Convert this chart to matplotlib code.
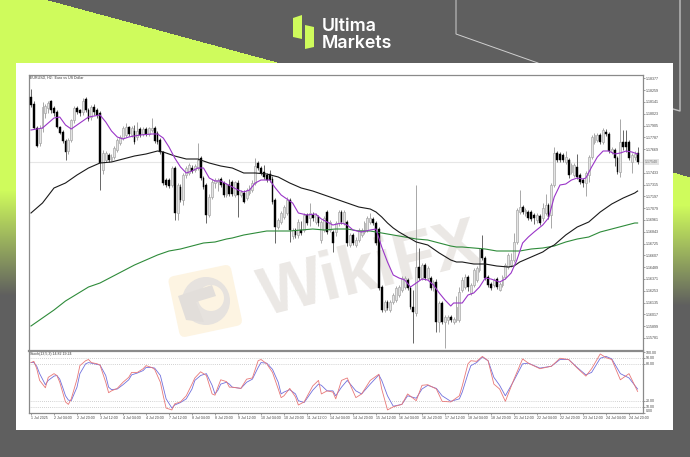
import numpy as np
import matplotlib
matplotlib.use('Agg')
import matplotlib.pyplot as plt
from matplotlib.colors import to_rgb
from matplotlib.patches import Polygon, FancyBboxPatch, Circle, Rectangle
from matplotlib.transforms import Affine2D

# candles, in pips above 1.15000
opens = [319,312,288,273,288,303,308,315,308,304,289,284,275,265,276,296,308,306,304,317,306,299,309,306,303,246,256,261,256,259,
         266,273,278,281,289,281,285,279,287,282,287,282,286,288,283,276,264,236,236,231,248,203,229,216,241,243,248,246,248,258,
         238,231,201,219,233,234,237,233,221,231,234,221,233,221,223,218,223,226,233,253,248,244,241,242,237,216,189,194,199,203,
         216,180,186,181,186,186,201,198,201,194,199,176,186,204,186,184,184,193,204,193,194,171,181,171,176,181,184,186,194,197,
         193,187,129,106,114,106,114,116,121,126,129,136,128,109,103,149,138,151,138,138,129,134,94,113,94,96,99,94,96,96,
         126,129,139,123,131,136,146,167,158,139,132,131,137,126,131,139,149,151,156,174,204,209,203,204,204,201,196,200,198,203,
         211,201,231,263,262,261,254,256,244,241,249,241,236,233,241,259,274,276,281,274,284,282,264,266,258,244,274,274,274,254,
         259,263]
highs = [327,315,290,291,314,312,315,316,310,306,290,286,277,278,297,310,310,307,318,319,308,311,312,308,305,266,265,263,262,270,
         278,281,290,293,290,290,291,294,289,289,289,289,298,290,285,278,265,238,238,250,250,233,232,243,250,253,251,252,273,260,
         240,233,222,237,238,238,239,235,233,237,236,235,236,226,226,228,231,236,258,255,250,251,243,246,240,218,198,205,211,219,
         218,188,188,197,195,203,203,213,204,203,201,196,200,206,196,186,195,206,206,206,196,183,183,179,188,188,195,200,203,199,
         195,189,131,116,116,116,123,130,131,140,140,138,130,126,231,168,153,153,150,140,136,137,115,115,101,101,101,99,120,129,
         139,142,141,133,148,150,168,181,160,141,134,138,139,134,141,153,163,163,183,208,226,211,208,206,206,203,203,202,213,222,
         213,233,269,265,264,263,265,258,253,253,262,243,238,245,261,281,283,283,283,288,287,284,269,268,260,297,286,286,276,263,
         265,269]
lows = [309,287,269,270,284,298,303,303,300,288,282,273,256,262,274,293,302,300,301,304,295,296,301,298,226,242,254,254,255,257,
        264,271,276,279,280,279,272,276,279,280,280,280,284,273,272,262,231,229,228,229,196,196,214,211,238,241,243,244,246,236,
        227,193,199,217,228,225,229,219,219,220,220,219,199,219,213,216,221,224,231,246,241,237,234,234,212,173,187,192,197,201,
        174,177,178,178,181,184,191,190,195,192,190,173,184,182,184,164,180,190,192,191,170,169,171,169,174,179,182,184,192,191,
        171,126,104,104,106,104,112,114,119,124,127,126,107,73,100,136,136,136,136,126,125,84,84,92,68,92,94,92,94,94,
        124,127,125,121,129,134,144,156,136,129,126,129,127,125,129,137,147,149,154,172,202,202,200,196,195,192,193,191,195,201,
        197,188,229,254,254,254,252,238,242,239,237,232,229,220,234,257,272,274,272,272,280,263,262,250,242,239,266,264,256,243,
        256,252]
closes = [311,288,270,288,309,310,313,306,303,289,283,275,264,276,296,308,304,303,315,306,297,309,304,301,253,263,263,256,259,268,
          276,279,288,289,282,288,274,285,281,287,282,288,288,275,274,264,233,231,230,248,203,231,216,241,248,251,245,250,256,238,
          229,201,219,234,236,236,231,221,231,222,222,234,221,224,214,226,228,233,250,248,243,239,236,236,214,189,196,203,209,216,
          186,186,181,194,183,201,193,203,198,201,193,194,198,184,194,173,193,204,194,204,173,181,173,176,186,186,193,198,198,193,
          173,128,106,114,108,114,121,128,129,138,138,128,109,104,149,138,151,138,148,128,134,94,113,94,99,99,96,97,109,124,
          136,139,129,131,146,148,166,158,138,131,128,136,129,132,139,151,161,156,174,206,209,204,206,198,197,198,201,193,208,211,
          199,231,263,256,256,256,259,241,251,251,239,234,233,243,259,279,281,281,274,286,282,265,267,258,244,274,269,269,258,261,
          262,254]

# moving averages read every few bars
fast_idx = [0,4,8,10,12,14,16,20,24,26,28,30,32,34,38,42,44,46,48,50,52,54,56,58,60,62,64,66,68,70,72,74,76,78,80,83,85,87,89,91,93,96,99,
            101,103,105,108,110,112,115,118,120,122,124,126,128,130,132,134,136,138,140,142,144,146,147,150,152,154,156,158,160,163,165,
            167,169,171,173,175,178,180,182,184,186,188,190,192,193,195,197,199,201,203,205,207,209,211]
fast_ma = [286,288,298,299,291,287,291,299,301,294,285,279,277,279,281,282,282,278,269,258,249,243,245,248,248,238,235,235,232,229,226,224,226,233,236,236,228,221,217,213,203,201,202,
           197,194,191,193,191,186,184,186,187,169,154,141,138,136,129,133,137,136,131,123,116,110,113,113,121,123,129,138,137,134,137,
           143,156,173,179,184,191,198,219,231,232,236,238,237,238,249,259,265,265,262,263,265,264,262]
mid_idx = [0,4,8,12,16,20,24,28,32,36,40,44,46,50,54,58,62,66,70,74,78,82,86,90,94,98,102,106,110,114,118,120,122,124,126,128,131,134,138,142,146,148,
           150,154,158,162,166,168,170,174,178,180,182,186,190,194,198,202,206,210,211]
mid_ma = [203,213,228,233,241,248,253,254,257,260,262,265,264,260,257,257,253,250,248,243,243,242,239,233,228,225,221,217,213,209,207,204,199,193,188,184,179,174,171,163,156,154,
          154,152,152,150,149,150,154,159,164,168,171,181,189,194,204,212,218,223,225]
slow_idx = [0,4,8,12,16,20,24,28,32,36,40,44,48,52,56,60,64,68,70,74,78,82,86,90,94,98,102,106,110,114,118,122,126,130,134,138,142,146,148,
            150,154,158,162,166,170,174,178,182,186,190,194,198,202,206,210,211]
slow_ma = [90,98,106,115,122,129,133,139,145,151,156,161,165,167,170,173,174,177,178,181,183,185,185,185,186,187,186,187,187,185,185,183,181,179,177,176,173,170,169,
           169,168,167,165,165,165,167,168,170,174,177,179,184,187,190,193,193]

# stochastic, sampled at the same bars for both lines
stoch_idx = [0,1,2,3,5,6,8,9,10,11,12,13,14,16,17,19,20,21,23,24,26,27,28,30,32,34,35,37,39,40,42,43,45,46,47,49,50,52,54,56,57,59,61,63,64,65,66,68,69,
             70,73,75,77,79,80,82,84,86,87,88,90,92,93,95,98,100,101,103,105,106,108,110,113,115,118,121,122,124,126,129,131,134,136,138,141,143,146,149,
             150,152,153,155,157,159,161,163,165,168,171,173,177,181,184,187,190,193,195,198,200,202,205,208,211]
stoch_main = [82,84,72,53,41,58,64,61,50,34,18,14,23,55,77,85,87,82,80,78,50,33,36,40,50,58,66,66,72,77,74,71,50,28,8,5,15,18,28,47,57,67,61,31,29,42,54,51,42,
              42,40,55,57,85,87,80,66,39,25,28,40,26,13,18,44,53,31,36,34,23,53,57,25,31,53,63,39,5,10,14,31,20,45,46,39,19,18,28,
              44,80,85,84,92,85,47,39,19,55,88,81,72,76,89,87,73,60,72,96,90,87,54,64,35]
stoch_signal = [82,82,76,64,46,53,60,61,55,42,28,21,20,42,64,80,82,81,79,78,61,42,38,39,46,54,62,65,69,74,74,73,61,42,23,8,13,17,23,39,53,61,64,45,31,37,47,50,47,
                42,40,50,55,74,82,81,71,50,31,34,38,31,20,17,37,47,45,36,36,28,42,53,36,31,47,62,53,28,11,14,28,24,39,45,40,28,19,23,
                34,64,77,82,91,85,58,45,28,53,80,81,73,76,87,87,74,62,66,89,92,88,64,57,39]

x_labels = ['1 Jul 2025','2 Jul 04:00','2 Jul 20:00','3 Jul 12:00','4 Jul 04:00','4 Jul 20:00','7 Jul 12:00','8 Jul 04:00','8 Jul 20:00',
            '9 Jul 12:00','10 Jul 04:00','10 Jul 20:00','11 Jul 12:00','14 Jul 04:00','14 Jul 20:00','15 Jul 12:00','16 Jul 04:00','16 Jul 20:00',
            '17 Jul 12:00','18 Jul 04:00','18 Jul 20:00','21 Jul 12:00','22 Jul 04:00','22 Jul 20:00','23 Jul 12:00','24 Jul 04:00','24 Jul 20:00']
stoch_levels = [100, 90, 80, 20, 10, 0]

BASE = 1.15
PIP = 0.0001
W, H = 690, 457
GREY = '#5f5f5f'
LIME = '#cffb5c'
SMALL = 2.6

plt.rcParams['font.family'] = ['Liberation Sans', 'DejaVu Sans']


def price(vals):
    return BASE + np.array(vals) * PIP


fig = plt.figure(figsize=(W / 100, H / 100), dpi=100, facecolor=GREY)

# background drawn in image pixels
bg = fig.add_axes([0, 0, 1, 1])

# lime shapes fading down into the dark grey
yy, xx = np.mgrid[0:H, 0:W]
fade = np.zeros((H, W))
left = (xx < 300) & (yy > (xx - 48) * 0.271)
fade[left] = np.clip((295 - yy[left]) / (295 - 190), 0, 1)
right = (xx >= 673) & (yy > 172 + (xx - 673) * 0.3)
fade[right] = np.clip((305 - yy[right]) / (305 - 205), 0, 1)
grey_rgb = np.array(to_rgb(GREY))
lime_rgb = np.array(to_rgb(LIME))
back = grey_rgb + (lime_rgb - grey_rgb) * fade[..., None]
bg.imshow(back, extent=(0, W, H, 0), aspect='auto', zorder=1)
bg.set_xlim(0, W)
bg.set_ylim(H, 0)
bg.axis('off')

# thin lines top right
bg.plot([456, 456, 538], [0, 34, 63], color='#d0d0d0', lw=0.7, zorder=2)
bg.plot([680, 680, 673], [0, 111, 109], color='#c0c0c0', lw=1.0, zorder=2)

# white card
bg.add_patch(Rectangle((16, 63), 657, 367, fc='white', ec='none', zorder=3))

# brand
bg.add_patch(Polygon([(293, 18), (302, 15), (302, 39), (293, 37)], fc=LIME, ec='none', zorder=4))
bg.add_patch(Polygon([(305, 25), (314, 27), (314, 47), (305, 49)], fc=LIME, ec='none', zorder=4))
bg.text(322, 31, 'Ultima', color='white', fontsize=12.8, family='Inter', weight='semibold', va='baseline', zorder=4)
bg.text(322, 48, 'Markets', color='white', fontsize=12.8, family='Inter', weight='semibold', va='baseline', zorder=4)

# watermark
rot = Affine2D().rotate_deg_around(205, 300, -12) + bg.transData
bg.add_patch(FancyBboxPatch((173, 270), 64, 62, boxstyle='round,pad=0,rounding_size=6', fc='#fdf4e2', ec='none', transform=rot, zorder=4))
bg.add_patch(Circle((206, 301), 24, fc='#e6e2de', ec='none', zorder=4.1))
bg.add_patch(Circle((211, 298), 13, fc='#fdf4e2', ec='none', zorder=4.2))
bg.add_patch(Polygon([(178, 296), (212, 285), (216, 296), (196, 302), (204, 322), (186, 320)], fc='#e2deda', ec='none', zorder=4.3))
bg.text(370, 271, 'WikiFX', color='#ebe8e5', fontsize=49, family='Liberation Sans', weight='bold',
        rotation=14, ha='center', va='center', zorder=4)

# price pane
x0, x1 = 28.5, 642.5
ax = fig.add_axes([x0 / W, 1 - 350.5 / H, (x1 - x0) / W, (350.5 - 74.5) / H], facecolor='none', zorder=5)
xs = np.arange(len(closes))
xlim = (-0.87, 212.7)
ax.set_xlim(*xlim)
ax.set_ylim(1.15 + 65.5 * PIP, 1.15 + 341.5 * PIP)

o, h, l, c = map(price, (opens, highs, lows, closes))
up = c >= o
ax.vlines(xs[up], l[up], h[up], color='#a8a8a8', lw=0.7, zorder=2)
ax.vlines(xs[~up], l[~up], h[~up], color='#666666', lw=0.7, zorder=2)
ax.bar(xs[up], (c - o)[up], bottom=o[up], width=0.62, color='#e4e4e4', edgecolor='#a8a8a8', lw=0.5, zorder=3)
ax.bar(xs[~up], (o - c)[~up], bottom=c[~up], width=0.62, color='black', edgecolor='black', lw=0.3, zorder=3)

ax.plot(slow_idx, price(slow_ma), color='#2e8b3a', lw=0.8, zorder=4)
ax.plot(mid_idx, price(mid_ma), color='#1a1a1a', lw=0.8, zorder=4)
ax.plot(fast_idx, price(fast_ma), color='#9a35c8', lw=0.8, zorder=5)

last = closes[-1]
ax.axhline(price(last), color='#e6e6e6', lw=0.8, zorder=1)

tick_top = 1.18377
tick_vals = [tick_top - 0.00118 * k for k in range(23)]
ax.set_yticks(tick_vals)
ax.set_yticklabels(['' if k == 7 else '%.5f' % v for k, v in enumerate(tick_vals)], fontsize=SMALL, color='#444444')
ax.yaxis.tick_right()
ax.tick_params(axis='y', length=1.5, width=0.4, pad=1, color='#555555')
ax.set_xticks([])
ymin, ymax = ax.get_ylim()
ax.text(1.004, (price(last) - ymin) / (ymax - ymin), '%.5f' % price(last), transform=ax.transAxes,
        fontsize=SMALL, color='#777777', va='center', ha='left', bbox=dict(fc='#e2e2e2', ec='none', pad=0.8))
ax.text(0.002, 0.9965, 'EURUSD, H2:  Euro vs US Dollar', transform=ax.transAxes, fontsize=SMALL, color='#333333', va='top', ha='left')
for s in ax.spines.values():
    s.set_color('#8a8a8a')
    s.set_linewidth(0.9)
ax.spines['bottom'].set_linewidth(1.6)

# stochastic pane
ax2 = fig.add_axes([x0 / W, 1 - 413 / H, (x1 - x0) / W, (413 - 351.5) / H], facecolor='none', zorder=5)
ax2.set_xlim(*xlim)
ax2.set_ylim(0, 100)
for lev in stoch_levels[1:-1]:
    ax2.axhline(lev, color='#a8a8a8', lw=0.5, ls=(0, (1, 2)), zorder=1)
ax2.plot(stoch_idx, stoch_signal, color='#7070dd', lw=0.6, zorder=3)
ax2.plot(stoch_idx, stoch_main, color='#e87878', lw=0.6, zorder=4)
ax2.set_yticks(stoch_levels)
ax2.set_yticklabels(['%.2f' % v for v in stoch_levels], fontsize=SMALL, color='#444444')
ax2.yaxis.tick_right()
ax2.tick_params(axis='y', length=1.5, width=0.4, pad=1, color='#555555')
labs = ax2.get_yticklabels()
labs[0].set_va('top')
labs[-1].set_va('bottom')
ax2.set_xticks(np.arange(len(x_labels)) * 8)
ax2.set_xticklabels(x_labels, fontsize=SMALL, color='#444444', ha='left')
ax2.tick_params(axis='x', length=1.5, width=0.4, pad=1, color='#555555')
ax2.text(0.002, 0.985, 'Stoch(13,5,3) 14.82 19.24', transform=ax2.transAxes, fontsize=SMALL, color='#333333', va='top', ha='left')
for s in ax2.spines.values():
    s.set_color('#8a8a8a')
    s.set_linewidth(0.9)
ax2.spines['top'].set_visible(False)

fig.savefig('out.png', dpi=100, facecolor=GREY)
